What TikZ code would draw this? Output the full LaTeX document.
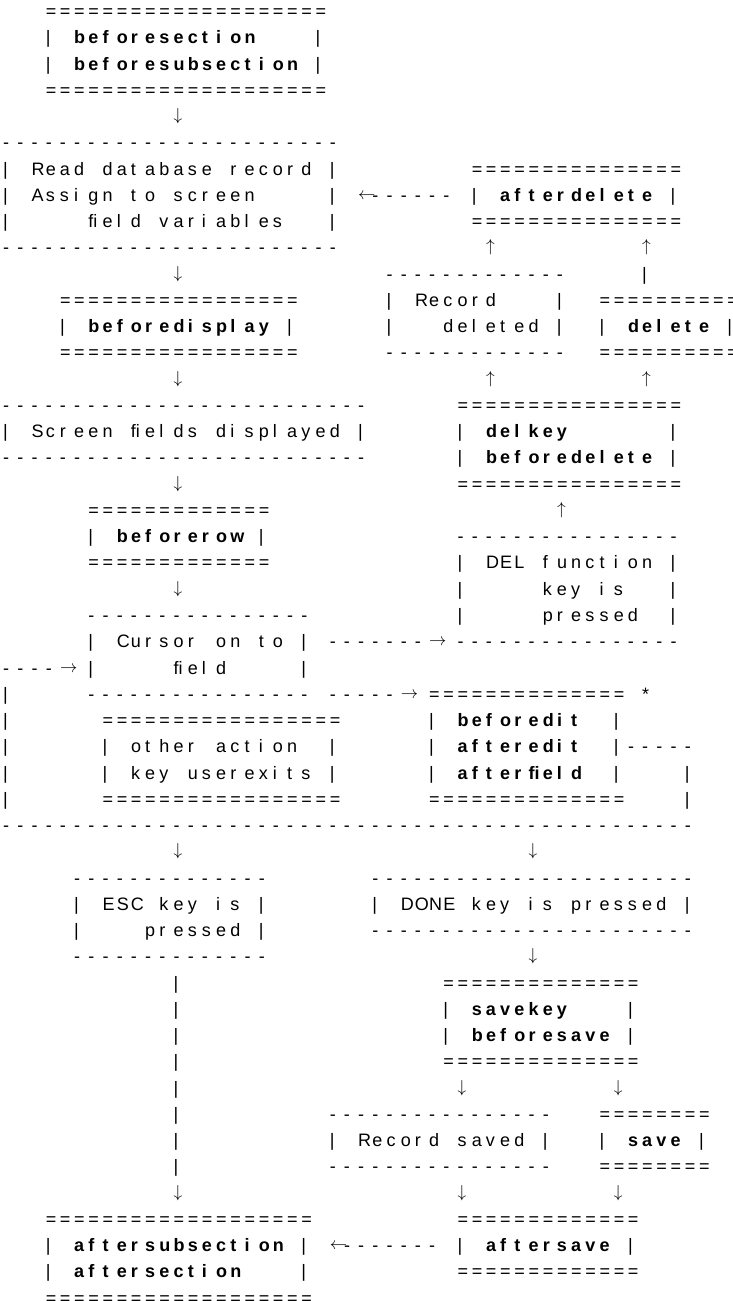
\documentclass[tikz,border=0pt]{standalone}
\usepackage{fontspec}
\setmainfont{Liberation Sans}
\newlength{\cellw}
\setlength{\cellw}{14.2pt}
% one glyph per fixed cell, left aligned
\ExplSyntaxOn
\NewDocumentCommand{\cells}{m}{\str_map_inline:nn{#1}{\makebox[\cellw][l]{##1}}}
\NewDocumentCommand{\charrun}{mm}{\prg_replicate:nn{#1}{\makebox[\cellw][l]{#2}}}
\ExplSyntaxOff
\newcommand{\arr}[1]{\makebox[\cellw][l]{\raisebox{2pt}{$#1$}}}
\tikzset{hook/.style={font=\fontsize{18}{20}\selectfont\bfseries}}
\begin{document}
\begin{tikzpicture}[x=14.2pt,y=-26.26pt]
    \tikzstyle{every node}+=[inner sep=0pt, anchor=base west, font=\fontsize{18}{20}\selectfont]
    \useasboundingbox (-0.21127,-0.66641) rectangle (51.4085,48.8766);
    \clip (-0.21127,-0.66641) rectangle (51.4085,48.8766);
    % section entry
    \node (bsTop) at (3,0) {\charrun{20}{=}};
    \node (bsL1) at (3,1) {\cells{|}};
    \node[hook] (bsSec) at (5,1) {\cells{beforesection}};
    \node (bsR1) at (22,1) {\cells{|}};
    \node (bsL2) at (3,2) {\cells{|}};
    \node[hook] (bsSub) at (5,2) {\cells{beforesubsection}};
    \node (bsR2) at (22,2) {\cells{|}};
    \node (bsBot) at (3,3) {\charrun{20}{=}};
    \node (arA) at (12,4) {\arr{\downarrow}};
    \node (rdTop) at (0,5) {\charrun{24}{-}};
    \node (rdL1) at (0,6) {\cells{| Read database record |}};
    \node (rdL2) at (0,7) {\cells{| Assign to screen}};
    \node (rdL3a) at (0,8) {\cells{|}};
    \node (rdL3) at (6,8) {\cells{ﬁeld variables}};
    \node (rdL3b) at (23,8) {\cells{|}};
    \node (rdBot) at (0,9) {\charrun{24}{-}};
    % delete branch
    \node (adTop) at (33,6) {\charrun{15}{=}};
    \node (rdR2) at (23,7) {\cells{|}};
    \node (delArr) at (25,7) {\arr{\leftarrow}};
    \node (delDash) at (26,7) {\charrun{6}{-}};
    \node (adL) at (33,7) {\cells{|}};
    \node[hook] (adName) at (35,7) {\cells{afterdelete}};
    \node (adR) at (47,7) {\cells{|}};
    \node (adBot) at (33,8) {\charrun{15}{=}};
    \node (upA) at (34,9) {\arr{\uparrow}};
    \node (upB) at (45,9) {\arr{\uparrow}};
    \node (rcTop) at (27,10) {\charrun{13}{-}};
    \node (dlBar) at (45,10) {\cells{|}};
    \node (rcL1) at (27,11) {\cells{| Record}};
    \node (rcR1) at (39,11) {\cells{|}};
    \node (dlTop) at (42,11) {\charrun{10}{=}};
    \node (rcL2) at (27,12) {\cells{|}};
    \node (rcL2b) at (31,12) {\cells{deleted |}};
    \node (dlL) at (42,12) {\cells{|}};
    \node[hook] (dlName) at (44,12) {\cells{delete}};
    \node (dlR) at (51,12) {\cells{|}};
    \node (rcBot) at (27,13) {\charrun{13}{-}};
    \node (dlBot) at (42,13) {\charrun{10}{=}};
    \node (upC) at (34,14) {\arr{\uparrow}};
    \node (upD) at (45,14) {\arr{\uparrow}};
    \node (dkTop) at (32,15) {\charrun{16}{=}};
    \node (dkL1) at (32,16) {\cells{|}};
    \node[hook] (dkKey) at (34,16) {\cells{delkey}};
    \node (dkR1) at (47,16) {\cells{|}};
    \node (dkL2) at (32,17) {\cells{|}};
    \node[hook] (dkBefore) at (34,17) {\cells{beforedelete}};
    \node (dkR2) at (47,17) {\cells{|}};
    \node (dkBot) at (32,18) {\charrun{16}{=}};
    \node (upE) at (39,19) {\arr{\uparrow}};
    \node (dfTop) at (32,20) {\charrun{16}{-}};
    \node (dfL1) at (32,21) {\cells{| DEL function |}};
    \node (dfL2a) at (32,22) {\cells{|}};
    \node (dfL2) at (38,22) {\cells{key is}};
    \node (dfL2b) at (47,22) {\cells{|}};
    \node (dfL3a) at (32,23) {\cells{|}};
    \node (dfL3) at (38,23) {\cells{pressed}};
    \node (dfL3b) at (47,23) {\cells{|}};
    \node (dfBot) at (32,24) {\charrun{16}{-}};
    % display and row
    \node (arB) at (12,10) {\arr{\downarrow}};
    \node (bdTop) at (4,11) {\charrun{17}{=}};
    \node (bdL) at (4,12) {\cells{|}};
    \node[hook] (bdName) at (6,12) {\cells{beforedisplay}};
    \node (bdR) at (20,12) {\cells{|}};
    \node (bdBot) at (4,13) {\charrun{17}{=}};
    \node (arC) at (12,14) {\arr{\downarrow}};
    \node (sfTop) at (0,15) {\charrun{26}{-}};
    \node (sfText) at (0,16) {\cells{| Screen ﬁelds displayed |}};
    \node (sfBot) at (0,17) {\charrun{26}{-}};
    \node (arD) at (12,18) {\arr{\downarrow}};
    \node (brTop) at (6,19) {\charrun{13}{=}};
    \node (brL) at (6,20) {\cells{|}};
    \node[hook] (brName) at (8,20) {\cells{beforerow}};
    \node (brR) at (18,20) {\cells{|}};
    \node (brBot) at (6,21) {\charrun{13}{=}};
    \node (arE) at (12,22) {\arr{\downarrow}};
    % field loop
    \node (cuTop) at (6,23) {\charrun{16}{-}};
    \node (cuL1) at (6,24) {\cells{| Cursor on to |}};
    \node (delDash2) at (23,24) {\charrun{7}{-}};
    \node (delGo) at (30,24) {\arr{\rightarrow}};
    \node (loopDash) at (0,25) {\charrun{4}{-}};
    \node (loopIn) at (4,25) {\arr{\rightarrow}};
    \node (cuL2a) at (6,25) {\cells{|}};
    \node (cuL2) at (12,25) {\cells{ﬁeld}};
    \node (cuL2b) at (21,25) {\cells{|}};
    \node (cuBot) at (6,26) {\charrun{16}{-}};
    \node (editDash) at (23,26) {\charrun{5}{-}};
    \node (editGo) at (28,26) {\arr{\rightarrow}};
    \foreach \k in {26,...,30}
        \node (loop\k) at (0,\k) {\cells{|}};
    \node (oaTop) at (7,27) {\charrun{17}{=}};
    \node (oaL1) at (7,28) {\cells{| other action}};
    \node (oaR1) at (23,28) {\cells{|}};
    \node (oaL2) at (7,29) {\cells{| key userexits |}};
    \node (oaBot) at (7,30) {\charrun{17}{=}};
    \node (edTop) at (30,26) {\charrun{14}{=}};
    \node (edStar) at (45,26) {\cells{*}};
    \node (edL1) at (30,27) {\cells{|}};
    \node[hook] (edBefore) at (32,27) {\cells{beforedit}};
    \node (edR1) at (43,27) {\cells{|}};
    \node (edL2) at (30,28) {\cells{|}};
    \node[hook] (edAfter) at (32,28) {\cells{afteredit}};
    \node (edR2) at (43,28) {\cells{|-----}};
    \node (edL3) at (30,29) {\cells{|}};
    \node[hook] (edField) at (32,29) {\cells{afterﬁeld}};
    \node (edR3) at (43,29) {\cells{|}};
    \node (edBack29) at (48,29) {\cells{|}};
    \node (edBot) at (30,30) {\charrun{14}{=}};
    \node (edBack30) at (48,30) {\cells{|}};
    \node (loopBot) at (0,31) {\charrun{49}{-}};
    % leaving the section
    \node (arF) at (12,32) {\arr{\downarrow}};
    \node (arG) at (37,32) {\arr{\downarrow}};
    \node (escTop) at (5,33) {\charrun{14}{-}};
    \node (escL1) at (5,34) {\cells{| ESC key is |}};
    \node (escL2a) at (5,35) {\cells{|}};
    \node (escL2) at (10,35) {\cells{pressed |}};
    \node (escBot) at (5,36) {\charrun{14}{-}};
    \foreach \k in {37,...,44}
        \node (escLine\k) at (12,\k) {\cells{|}};
    \node (arK) at (12,45) {\arr{\downarrow}};
    \node (dnTop) at (26,33) {\charrun{23}{-}};
    \node (dnText) at (26,34) {\cells{| DONE key is pressed |}};
    \node (dnBot) at (26,35) {\charrun{23}{-}};
    \node (arH) at (37,36) {\arr{\downarrow}};
    \node (svTop) at (31,37) {\charrun{14}{=}};
    \node (svL1) at (31,38) {\cells{|}};
    \node[hook] (svKey) at (33,38) {\cells{savekey}};
    \node (svR1) at (44,38) {\cells{|}};
    \node (svL2) at (31,39) {\cells{|}};
    \node[hook] (svBefore) at (33,39) {\cells{beforesave}};
    \node (svR2) at (44,39) {\cells{|}};
    \node (svBot) at (31,40) {\charrun{14}{=}};
    \node (arI) at (32,41) {\arr{\downarrow}};
    \node (arJ) at (43,41) {\arr{\downarrow}};
    \node (rsTop) at (23,42) {\charrun{16}{-}};
    \node (rsText) at (23,43) {\cells{| Record saved |}};
    \node (rsBot) at (23,44) {\charrun{16}{-}};
    \node (saTop) at (42,42) {\charrun{8}{=}};
    \node (saL) at (42,43) {\cells{|}};
    \node[hook] (saName) at (44,43) {\cells{save}};
    \node (saR) at (49,43) {\cells{|}};
    \node (saBot) at (42,44) {\charrun{8}{=}};
    \node (arL) at (32,45) {\arr{\downarrow}};
    \node (arM) at (43,45) {\arr{\downarrow}};
    \node (asTop) at (3,46) {\charrun{19}{=}};
    \node (asL1) at (3,47) {\cells{|}};
    \node[hook] (asSub) at (5,47) {\cells{aftersubsection}};
    \node (asR1) at (21,47) {\cells{|}};
    \node (saveBack) at (23,47) {\arr{\leftarrow}};
    \node (saveDash) at (24,47) {\charrun{7}{-}};
    \node (asL2) at (3,48) {\cells{|}};
    \node[hook] (asSec) at (5,48) {\cells{aftersection}};
    \node (asR2) at (21,48) {\cells{|}};
    \node (asBot) at (3,49) {\charrun{19}{=}};
    \node (avTop) at (32,46) {\charrun{13}{=}};
    \node (avL) at (32,47) {\cells{|}};
    \node[hook] (avName) at (34,47) {\cells{aftersave}};
    \node (avR) at (44,47) {\cells{|}};
    \node (avBot) at (32,48) {\charrun{13}{=}};
\end{tikzpicture}
\end{document}
